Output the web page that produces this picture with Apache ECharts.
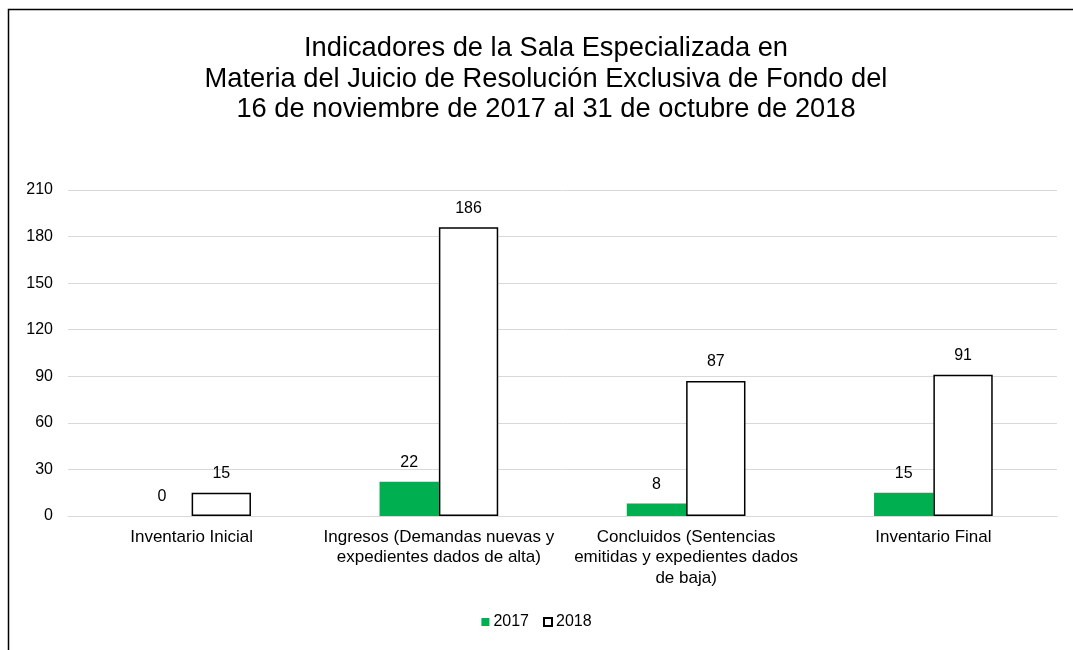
<!DOCTYPE html>
<html><head><meta charset="utf-8">
<script src="https://cdn.jsdelivr.net/npm/echarts@6/dist/echarts.min.js"></script>
<style>html,body{margin:0;padding:0;background:#fff}#c{width:1073px;height:650px}</style>
</head><body><div id="c"></div>
<script>
const categories = ['Inventario Inicial', 'Ingresos (Demandas nuevas y\nexpedientes dados de alta)', 'Concluidos (Sentencias\nemitidas y expedientes dados\nde baja)', 'Inventario Final'];
const values2017 = [0, 22, 8, 15];
const values2018 = [15, 186, 87, 91];
const yTicks = {min: 0, max: 210, interval: 30};
const titleText = 'Indicadores de la Sala Especializada en\nMateria del Juicio de Resolución Exclusiva de Fondo del\n16 de noviembre de 2017 al 31 de octubre de 2018';

const font = '"Liberation Sans", Arial, sans-serif';
const chart = echarts.init(document.getElementById('c'), null, {renderer: 'canvas'});
chart.setOption({
  animation: false,
  textStyle: {fontFamily: font, color: '#000'},
  graphic: [{type: 'rect', shape: {x: 8.5, y: 9.5, width: 1100, height: 700}, style: {fill: 'none', stroke: '#000', lineWidth: 1.5}, silent: true}],
  title: {text: titleText, left: 541, textAlign: 'center', top: 28, textStyle: {fontFamily: font, fontSize: 27.3, fontWeight: 'normal', color: '#000', lineHeight: 30.7}},
  legend: {bottom: 15, left: 'center', itemWidth: 8, itemHeight: 8, itemGap: 14, textStyle: {fontFamily: font, fontSize: 16, color: '#000', padding: [0, 0, 0, -1]},
    data: [{name: '2017', icon: 'rect'}, {name: '2018', icon: 'rect'}]},
  grid: {left: 68, right: 16, top: 190, bottom: 134, containLabel: false},
  xAxis: {type: 'category', data: categories, axisTick: {show: false}, axisLine: {show: true, lineStyle: {color: '#d9d9d9'}},
    axisLabel: {interval: 0, fontSize: 17, color: '#000', lineHeight: 20.5, margin: 11, fontFamily: font}},
  yAxis: {type: 'value', min: yTicks.min, max: yTicks.max, interval: yTicks.interval,
    axisLine: {show: false}, axisTick: {show: false},
    axisLabel: {fontSize: 16, color: '#000', margin: 15, fontFamily: font},
    splitLine: {lineStyle: {color: '#d9d9d9', width: 1}}},
  series: [
    {name: '2017', type: 'bar', data: values2017, barWidth: '24%', barGap: '0%', itemStyle: {color: '#00B050'},
     label: {show: true, position: 'top', distance: 11, fontSize: 16, color: '#000', fontFamily: font}},
    {name: '2018', type: 'bar', data: values2018, barWidth: '24%', barGap: '0%', itemStyle: {color: '#fff', borderColor: '#000', borderWidth: 1.5},
     label: {show: true, position: 'top', distance: 11, fontSize: 16, color: '#000', fontFamily: font}}
  ]
});
</script></body></html>
